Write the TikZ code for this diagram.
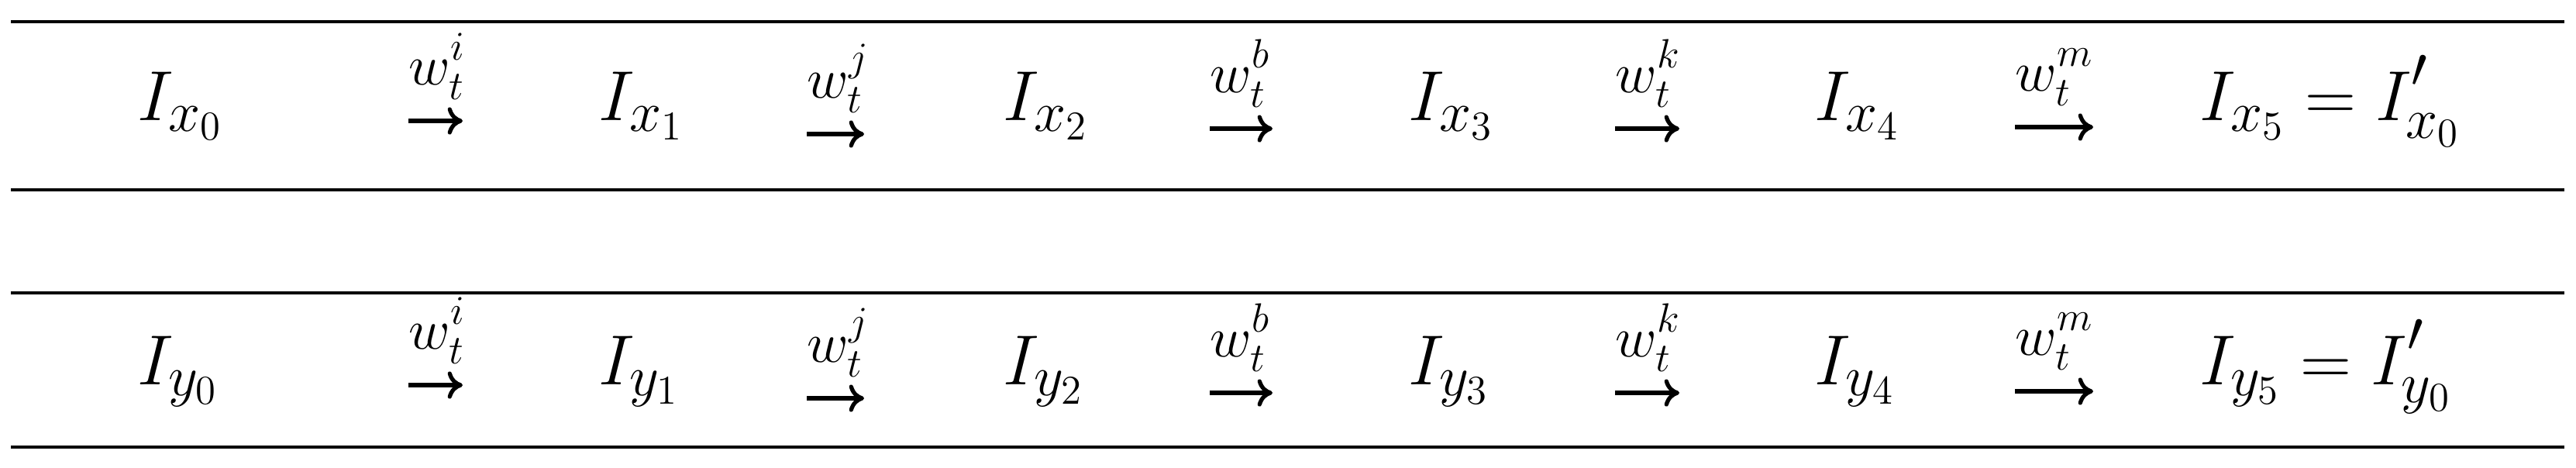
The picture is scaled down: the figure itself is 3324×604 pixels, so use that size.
\RequirePackage{fix-cm}
\documentclass[tikz,border=0pt]{standalone}
\usepackage{amsmath}
\usetikzlibrary{arrows.meta}
\DeclareMathSizes{26}{26}{21}{15}
\DeclareMathSizes{21}{21}{15}{11}
\newcommand{\lsup}[1]{\raisebox{1.5pt}{$\scriptstyle #1$}}
\tikzset{
  var/.style={anchor=base west, inner sep=0pt, font=\fontsize{26}{30}\selectfont},
  lbl/.style={anchor=base west, inner sep=0pt, font=\fontsize{21}{24}\selectfont},
  arr/.style={line width=1.5pt, -{To[length=5.5pt,width=10pt]}},
  tablerule/.style={line width=1.2pt, black}
}
\begin{document}
\begin{tikzpicture}[x=0.01cm, y=-0.01cm]
\useasboundingbox (0,0) rectangle (3324,604);
% table rules
\coordinate (r1a) at (14,28);  \coordinate (r1b) at (3309,28);
\coordinate (r2a) at (14,245); \coordinate (r2b) at (3309,245);
\coordinate (r3a) at (14,378); \coordinate (r3b) at (3309,378);
\coordinate (r4a) at (14,577); \coordinate (r4b) at (3309,577);
\draw[tablerule] (r1a) -- (r1b);
\draw[tablerule] (r2a) -- (r2b);
\draw[tablerule] (r3a) -- (r3b);
\draw[tablerule] (r4a) -- (r4b);
% row 1
\node[var] (x0) at (177,156) {$I_{x_0}$};
\node[var] (x1) at (772,156) {$I_{x_1}$};
\node[var] (x2) at (1294,156) {$I_{x_2}$};
\node[var] (x3) at (1817,156) {$I_{x_3}$};
\node[var] (x4) at (2341,156) {$I_{x_4}$};
\node[var] (x5) at (2838,156) {$I_{x_5}=I^{\raisebox{3pt}{$\scriptstyle\prime$}}_{x_0}$};
\node[lbl] (ai) at (527,110) {$w_t^{\lsup{i}}$};
\node[lbl] (aj) at (1041,127) {$w_t^{\lsup{j}}$};
\node[lbl] (ab) at (1561,120) {$w_t^{\lsup{b}}$};
\node[lbl] (ak) at (2084,120) {$w_t^{\lsup{k}}$};
\node[lbl] (am) at (2600,118) {$w_t^{\lsup{m}}$};
\draw[arr] ([yshift=-0.46cm]ai.base west) -- ++(70,0);
\draw[arr] ([yshift=-0.46cm]aj.base west) -- ++(74,0);
\draw[arr] ([yshift=-0.46cm]ab.base west) -- ++(81,0);
\draw[arr] ([yshift=-0.46cm]ak.base west) -- ++(83,0);
\draw[arr] ([yshift=-0.46cm]am.base west) -- ++(101,0);
% row 2
\node[var] (y0) at (177,497) {$I_{y_0}$};
\node[var] (y1) at (772,497) {$I_{y_1}$};
\node[var] (y2) at (1294,497) {$I_{y_2}$};
\node[var] (y3) at (1817,497) {$I_{y_3}$};
\node[var] (y4) at (2341,497) {$I_{y_4}$};
\node[var] (y5) at (2838,497) {$I_{y_5}=I^{\raisebox{3pt}{$\scriptstyle\prime$}}_{y_0}$};
\node[lbl] (bi) at (527,451) {$w_t^{\lsup{i}}$};
\node[lbl] (bj) at (1041,468) {$w_t^{\lsup{j}}$};
\node[lbl] (bb) at (1561,461) {$w_t^{\lsup{b}}$};
\node[lbl] (bk) at (2084,461) {$w_t^{\lsup{k}}$};
\node[lbl] (bm) at (2600,459) {$w_t^{\lsup{m}}$};
\draw[arr] ([yshift=-0.46cm]bi.base west) -- ++(70,0);
\draw[arr] ([yshift=-0.46cm]bj.base west) -- ++(74,0);
\draw[arr] ([yshift=-0.46cm]bb.base west) -- ++(81,0);
\draw[arr] ([yshift=-0.46cm]bk.base west) -- ++(83,0);
\draw[arr] ([yshift=-0.46cm]bm.base west) -- ++(101,0);
\end{tikzpicture}
\end{document}
